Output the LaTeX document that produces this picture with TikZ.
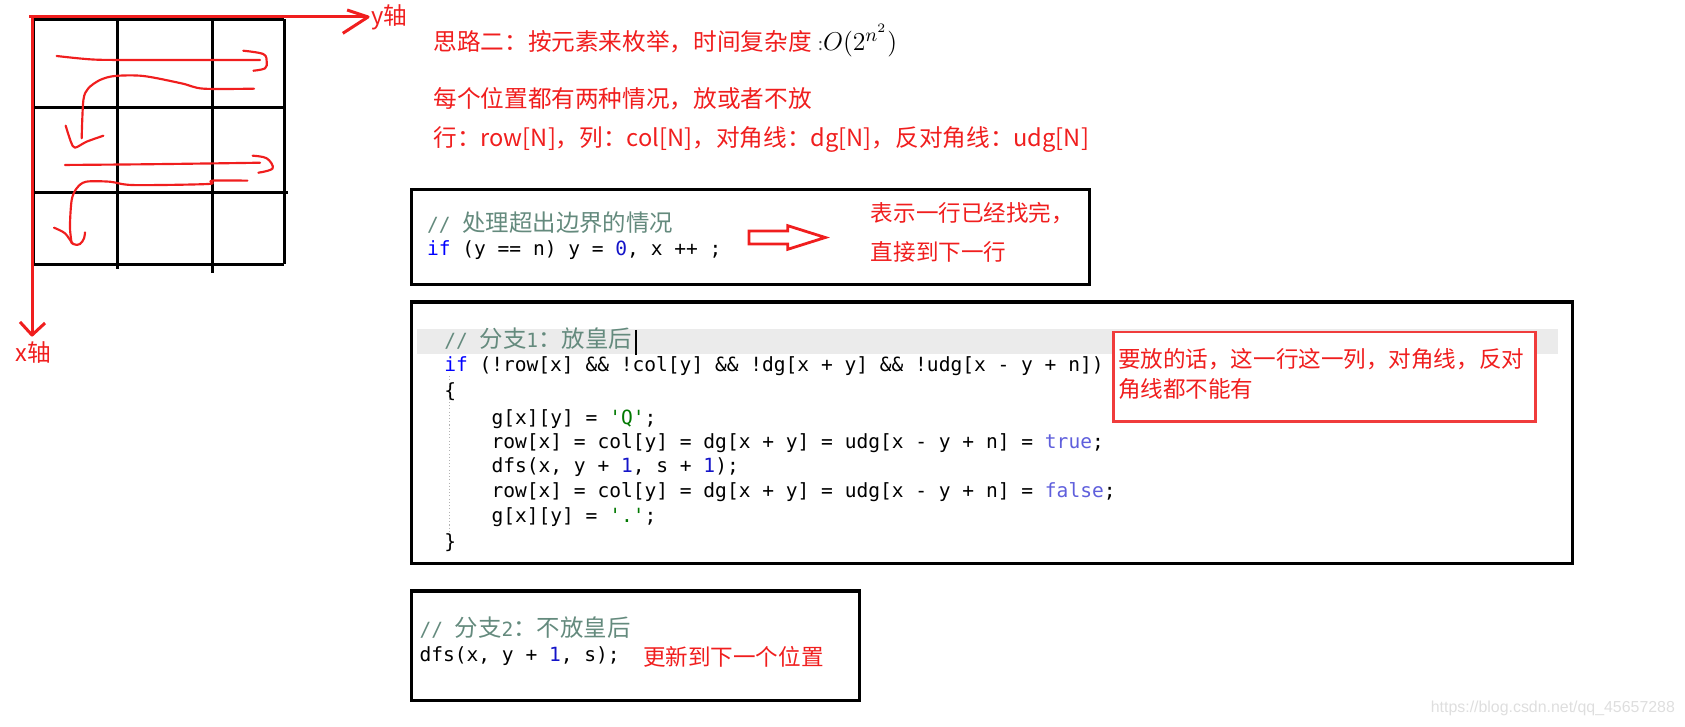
\documentclass[tikz,border=0pt]{standalone}
\usepackage{fontspec}
\setmonofont{DejaVu Sans Mono}
\newfontfamily\cjk{Noto Sans CJK SC}
\newfontfamily\wmfont{Liberation Sans}
\definecolor{myred}{RGB}{240,30,30}
\definecolor{boxred}{RGB}{240,60,60}
\definecolor{cmt}{RGB}{100,138,125}
\definecolor{kw}{RGB}{0,0,255}
\definecolor{num}{RGB}{20,20,200}
\definecolor{boolc}{RGB}{95,95,220}
\definecolor{strc}{RGB}{0,120,0}
\definecolor{hl}{RGB}{235,235,235}
\definecolor{wmc}{RGB}{222,222,222}
\newcommand\cmtcjk[1]{{\cjk\fontsize{10.9}{11}\selectfont #1}}
\tikzset{
  gridline/.style={line width=1.4pt,black},
  axisline/.style={line width=1.4pt,myred},
  pen/.style={line width=1pt,myred,line cap=round,line join=round},
  redtxt/.style={anchor=west,inner sep=0pt,text=myred,font=\cjk\fontsize{11}{13}\selectfont},
  calltxt/.style={anchor=west,inner sep=0pt,text=myred,align=left,font=\cjk\fontsize{10.5}{14}\selectfont},
  codeline/.style={anchor=west,inner sep=0pt,text height=7pt,text depth=2pt,font=\ttfamily\fontsize{9.1}{11}\selectfont},
  codebox/.style={draw=black,line width=1.5pt},
}
\begin{document}
\begin{tikzpicture}[x=0.5pt,y=-0.5pt]
\useasboundingbox (0,0) rectangle (1568,676);
% ---------- grid ----------
\draw[gridline] (30.7,17.7) -- (264.3,17.7);
\draw[gridline] (30.7,99.6) -- (264.3,99.6);
\draw[gridline] (30.7,178.7) -- (268,178.7);
\draw[gridline] (30.7,245.7) -- (264.3,245.7);
\draw[gridline] (31.5,17.7) -- (31.5,245.7);
\draw[gridline] (108.9,17.7) -- (108.9,250);
\draw[gridline] (198.2,17.7) -- (198.2,254);
\draw[gridline] (264.3,17.7) -- (264.3,245.7);
% ---------- axes ----------
\coordinate (yax0) at (27,15.8);
\coordinate (yax1) at (342.5,15.8);
\coordinate (xax0) at (29.8,15.8);
\coordinate (xax1) at (29.8,311.8);
\draw[axisline] (yax0) -- (yax1);
\draw[axisline,line join=round] (323,9.3) -- (yax1) -- (319,31);
\draw[axisline] (xax0) -- (xax1);
\draw[axisline,line join=round] (18.6,299.6) -- (xax1) -- (41.9,300.6);
\node[anchor=west,inner sep=0pt,text=myred,font=\cjk\fontsize{11}{13}\selectfont] (ylab) at (345,16) {y轴};
\node[inner sep=0pt,text=myred,font=\cjk\fontsize{11}{13}\selectfont] (xlab) at (31,328) {x轴};
% ---------- freehand path ----------
\draw[pen] plot[smooth,tension=0.5] coordinates {(52.7,52.1) (83.8,55.2) (114.8,55.8) (242,55.8)};
\draw[pen] plot[smooth,tension=0.6] coordinates {(226.4,47.2) (245,50.3) (248.2,57.4) (246.6,63.6) (235.8,65.8)};
\draw[pen] plot[smooth,tension=0.5] coordinates {(236.4,82.5) (189.2,82.5) (169.1,77.6) (133.4,70.7) (107,70.7) (93.1,74.4) (82.2,82.2) (77.6,93.1) (76,128.7)};
\draw[pen] plot[smooth,tension=0.5] coordinates {(61.1,116.9) (66,132) (69.8,137.4) (80.7,131.8) (96.2,126.3)};
\draw[pen] plot[smooth,tension=0.5] coordinates {(60.5,153.5) (131.8,152.9) (201.6,152) (242,151.4)};
\draw[pen] plot[smooth,tension=0.6] coordinates {(235.1,144.9) (248.2,147.3) (253.7,156.7) (240.4,160.7)};
\draw[pen] plot[smooth,tension=0.5] coordinates {(230.2,168.1) (197,168.1) (193.9,171.2) (124.1,172.2) (102.4,169.1) (80,169.1) (71.3,175.3) (66.7,186.1) (65.1,210.9) (66.7,226.4)};
\draw[pen] plot[smooth,tension=0.5] coordinates {(50.3,211.9) (60.5,217.1) (68.2,227.1) (74.4,227.1) (78.2,221.8) (79.1,216.2)};
% ---------- top texts ----------
\node[redtxt] (title) at (403,38) {思路二：按元素来枚举，时间复杂度\hspace{3pt}{\color{black!70}\fontsize{8}{8}\selectfont:}{\color{black}\fontsize{13}{15}\selectfont$O(2^{n^2})$}};
\node[redtxt] (line2) at (403,92) {每个位置都有两种情况，放或者不放};
\node[redtxt] (line3) at (403,130) {行：row[N]，列：col[N]，对角线：dg[N]，反对角线：udg[N]};
% ---------- box 1 ----------
\draw[codebox] (383,176) rectangle (1014,265);
\node[codeline,text=cmt] (b1c) at (397,210) {//\ \cmtcjk{处理超出边界的情况}};
\node[codeline] (b1l) at (397,233) {{\color{kw}if} (y == n) y = {\color{num}0}, x ++ ;};
\draw[myred,line width=1.3pt,line join=miter] (697,215) -- (733,215) -- (733,210) -- (768,221) -- (733,232) -- (733,227) -- (697,227) -- cycle;
\node[calltxt,anchor=north west] (b1t) at (810,188) {表示一行已经找完，\\[4pt]直接到下一行};
% ---------- box 2 ----------
\draw[codebox] (383,281) rectangle (1463,524);
\fill[hl] (388,306) rectangle (1450,329);
\draw[black!30,densely dotted,line width=0.5pt] (418,350) -- (418,495);
\node[codeline,text=cmt] (b2c) at (413,318) {//\ \cmtcjk{分支}1\cmtcjk{：放皇后}};
\draw[black,line width=1pt] (592,307) -- (592,330);
\node[codeline] (b2l1) at (413,341) {{\color{kw}if} (!row[x] \&\& !col[y] \&\& !dg[x + y] \&\& !udg[x - y + n])};
\node[codeline] (b2l2) at (413,365) {\{};
\node[codeline] (b2l3) at (457,390) {g[x][y] = {\color{strc}'Q'};};
\node[codeline] (b2l4) at (457,412) {row[x] = col[y] = dg[x + y] = udg[x - y + n] = {\color{boolc}true};};
\node[codeline] (b2l5) at (457,435) {dfs(x, y + {\color{num}1}, s + {\color{num}1});};
\node[codeline] (b2l6) at (457,458) {row[x] = col[y] = dg[x + y] = udg[x - y + n] = {\color{boolc}false};};
\node[codeline] (b2l7) at (457,481) {g[x][y] = {\color{strc}'.'};};
\node[codeline] (b2l8) at (413,505) {\}};
\draw[boxred,line width=1.2pt,fill=white] (1036,309) rectangle (1429,392);
\node[calltxt,anchor=north west] (b2t) at (1040,324) {要放的话，这一行这一列，对角线，反对\\角线都不能有};
% ---------- box 3 ----------
\draw[codebox] (383,550) rectangle (800,652);
\node[codeline,text=cmt] (b3c) at (390,587) {//\ \cmtcjk{分支}2\cmtcjk{：不放皇后}};
\node[codeline] (b3l) at (390,611) {dfs(x, y + {\color{num}1}, s);};
\node[calltxt] (b3t) at (598,611) {更新到下一个位置};
% ---------- watermark ----------
\node[anchor=east,inner sep=0pt,text=wmc,font=\wmfont\fontsize{7.4}{8}\selectfont] (wm) at (1559,659) {https://blog.csdn.net/qq\_45657288};
\end{tikzpicture}
\end{document}
